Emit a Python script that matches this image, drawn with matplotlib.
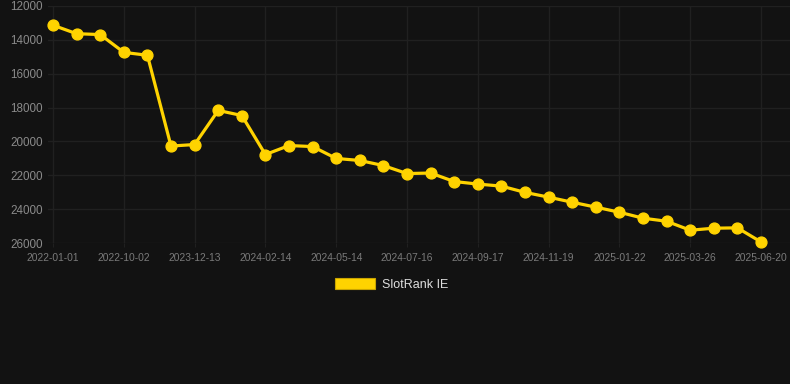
import matplotlib
matplotlib.use('Agg')
import matplotlib.pyplot as plt
from matplotlib.patches import Patch

plt.rcParams['font.family'] = ['Liberation Sans', 'DejaVu Sans']

# ranks (lower is better, axis inverted)
ranks = [13150, 13650, 13700, 14750, 14920, 20270, 20180, 18170, 18470, 20770,
         20240, 20300, 21000, 21120, 21420, 21890, 21860, 22360, 22510, 22630,
         23000, 23280, 23580, 23870, 24170, 24520, 24700, 25230, 25110, 25090,
         25920]
tick_labels = ['2022-01-01', '2022-10-02', '2023-12-13', '2024-02-14', '2024-05-14',
               '2024-07-16', '2024-09-17', '2024-11-19', '2025-01-22', '2025-03-26',
               '2025-06-20']
y_ticks = [12000, 14000, 16000, 18000, 20000, 22000, 24000, 26000]
series_name = 'SlotRank IE'

bg = '#121212'
grid = '#202020'
line_col = '#FFD300'

fig = plt.figure(figsize=(7.9, 3.84), dpi=100, facecolor=bg)
ax = fig.add_axes([48 / 790, (384 - 243.3) / 384, 742 / 790, 237.6 / 384])
ax.set_facecolor(bg)

x = list(range(len(ranks)))
ax.plot(x, ranks, color=line_col, lw=2.3, marker='o', ms=7.8,
        markerfacecolor=line_col, markeredgecolor=line_col, zorder=3, clip_on=False)

ax.set_ylim(26000, 12000)
ax.set_xlim(-5 / 23.6, 30 + 29 / 23.6)
ax.set_yticks(y_ticks)
ax.set_yticklabels([str(v) for v in y_ticks])
ax.set_xticks(x[::3])
ax.set_xticklabels(tick_labels)

ax.grid(True, color=grid, lw=1)
ax.set_axisbelow(True)
for s in ax.spines.values():
    s.set_visible(False)

ax.tick_params(axis='y', length=0, pad=4, labelsize=8.4, labelcolor='#8a8a8a')
ax.tick_params(axis='x', length=3, color=grid, pad=4, labelsize=7.4, labelcolor='#7a7a7a')

ax.legend(handles=[Patch(facecolor=line_col, edgecolor='#c9a400', lw=0.8, label=series_name)],
          loc='center', bbox_to_anchor=(391.5 / 790, 1 - 284.5 / 384),
          bbox_transform=fig.transFigure, frameon=False, fontsize=9,
          handlelength=3.2, handleheight=0.95, handletextpad=0.6,
          borderpad=0, labelcolor='#dddddd')

fig.savefig('out.png', dpi=100, facecolor=bg)
